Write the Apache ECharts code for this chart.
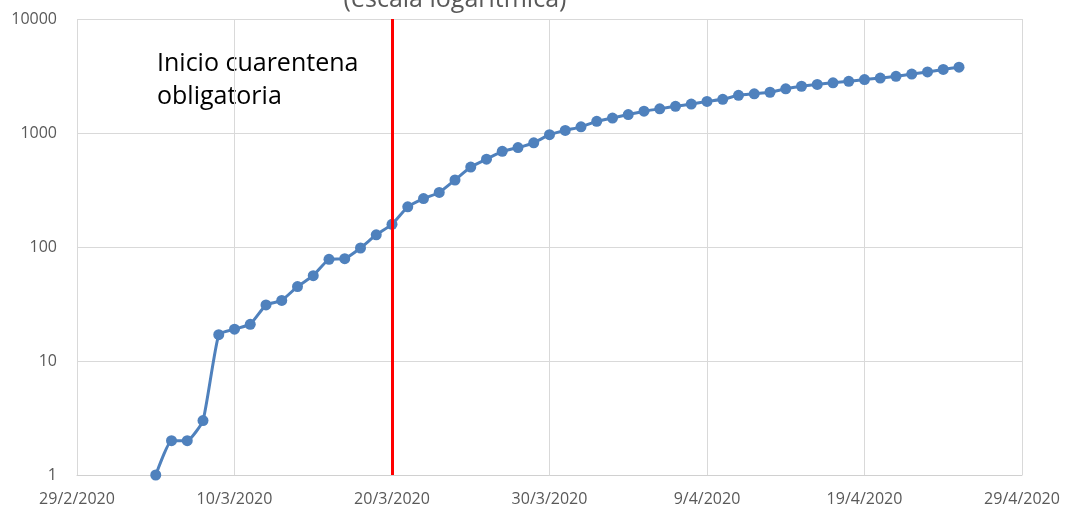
<!DOCTYPE html>
<html>
<head>
<meta charset="utf-8">
<script src="https://cdn.jsdelivr.net/npm/echarts@6/dist/echarts.min.js"></script>
<style>
    html, body { margin: 0; padding: 0; background: #fff; }
    #chart { width: 1066px; height: 509px; }
</style>
</head>
<body>
<div id="chart"></div>
<script>
var startDate = '29/2/2020';
var quarantineDate = '20/3/2020';
var tickLabels = ['29/2/2020', '10/3/2020', '20/3/2020', '30/3/2020', '9/4/2020', '19/4/2020', '29/4/2020'];
var dates = [
    '5/3/2020', '6/3/2020', '7/3/2020', '8/3/2020', '9/3/2020', '10/3/2020', '11/3/2020', '12/3/2020',
    '13/3/2020', '14/3/2020', '15/3/2020', '16/3/2020', '17/3/2020', '18/3/2020', '19/3/2020', '20/3/2020',
    '21/3/2020', '22/3/2020', '23/3/2020', '24/3/2020', '25/3/2020', '26/3/2020', '27/3/2020', '28/3/2020',
    '29/3/2020', '30/3/2020', '31/3/2020', '1/4/2020', '2/4/2020', '3/4/2020', '4/4/2020', '5/4/2020',
    '6/4/2020', '7/4/2020', '8/4/2020', '9/4/2020', '10/4/2020', '11/4/2020', '12/4/2020', '13/4/2020',
    '14/4/2020', '15/4/2020', '16/4/2020', '17/4/2020', '18/4/2020', '19/4/2020', '20/4/2020', '21/4/2020',
    '22/4/2020', '23/4/2020', '24/4/2020', '25/4/2020'
];
var cases = [
    1, 2, 2, 3, 17, 19, 21, 31,
    34, 45, 56, 78, 79, 98, 128, 158,
    225, 266, 301, 387, 502, 589, 690, 745,
    820, 966, 1054, 1133, 1265, 1353, 1451, 1554,
    1628, 1715, 1795, 1894, 1975, 2142, 2208, 2277,
    2443, 2571, 2669, 2758, 2839, 2941, 3031, 3144,
    3288, 3435, 3607, 3780
];

// days counted from 29/2/2020
function dayOffset(str) {
    var p = str.split('/');
    var p0 = startDate.split('/');
    var t = Date.UTC(+p[2], +p[1] - 1, +p[0]);
    var t0 = Date.UTC(+p0[2], +p0[1] - 1, +p0[0]);
    return Math.round((t - t0) / 86400000);
}

var seriesData = [];
for (var i = 0; i < dates.length; i++) {
    seriesData.push([dayOffset(dates[i]), cases[i]]);
}

var font = '"Open Sans", "Liberation Sans", sans-serif';
var myChart = echarts.init(document.getElementById('chart'));
var option = {
    animation: false,
    grid: { left: 77, right: 44, top: 19, bottom: 34 },
    xAxis: {
        type: 'value',
        min: 0,
        max: 60,
        interval: 10,
        axisLine: { show: true, lineStyle: { color: '#d0d0d0', width: 1 } },
        axisTick: { show: false },
        splitLine: { show: true, lineStyle: { color: '#d9d9d9', width: 1 } },
        axisLabel: {
            margin: 16,
            color: '#595959',
            fontFamily: font,
            fontSize: 16,
            showMinLabel: true,
            showMaxLabel: true,
            formatter: function (v) { return tickLabels[Math.round(v / 10)]; }
        }
    },
    yAxis: {
        type: 'log',
        logBase: 10,
        min: 1,
        max: 10000,
        axisLine: { show: false },
        axisTick: { show: false },
        splitLine: { show: true, lineStyle: { color: '#d9d9d9', width: 1 } },
        axisLabel: {
            margin: 20,
            color: '#595959',
            fontFamily: font,
            fontSize: 16,
            formatter: function (v) { return String(Math.round(v)); }
        }
    },
    series: [{
        type: 'line',
        data: seriesData,
        smooth: 0.15,
        symbol: 'circle',
        symbolSize: 11,
        lineStyle: { color: '#4f81bd', width: 3 },
        itemStyle: { color: '#4f81bd' },
        markLine: {
            silent: true,
            symbol: ['none', 'none'],
            label: { show: false },
            lineStyle: { color: '#ff0000', width: 3, type: 'solid', opacity: 1 },
            data: [{ xAxis: dayOffset(quarantineDate) }]
        }
    }],
    graphic: [
        {
            type: 'text',
            x: 455,
            y: 0,
            style: {
                text: '(escala logarítmica)',
                fill: '#595959',
                font: '25px ' + font,
                textAlign: 'center',
                textVerticalAlign: 'middle'
            }
        },
        {
            type: 'text',
            x: 157,
            y: 47,
            style: {
                text: 'Inicio cuarentena\nobligatoria',
                fill: '#000',
                font: '25px ' + font,
                lineHeight: 33,
                textAlign: 'left',
                textVerticalAlign: 'top'
            }
        }
    ]
};
myChart.setOption(option);
</script>
</body>
</html>
